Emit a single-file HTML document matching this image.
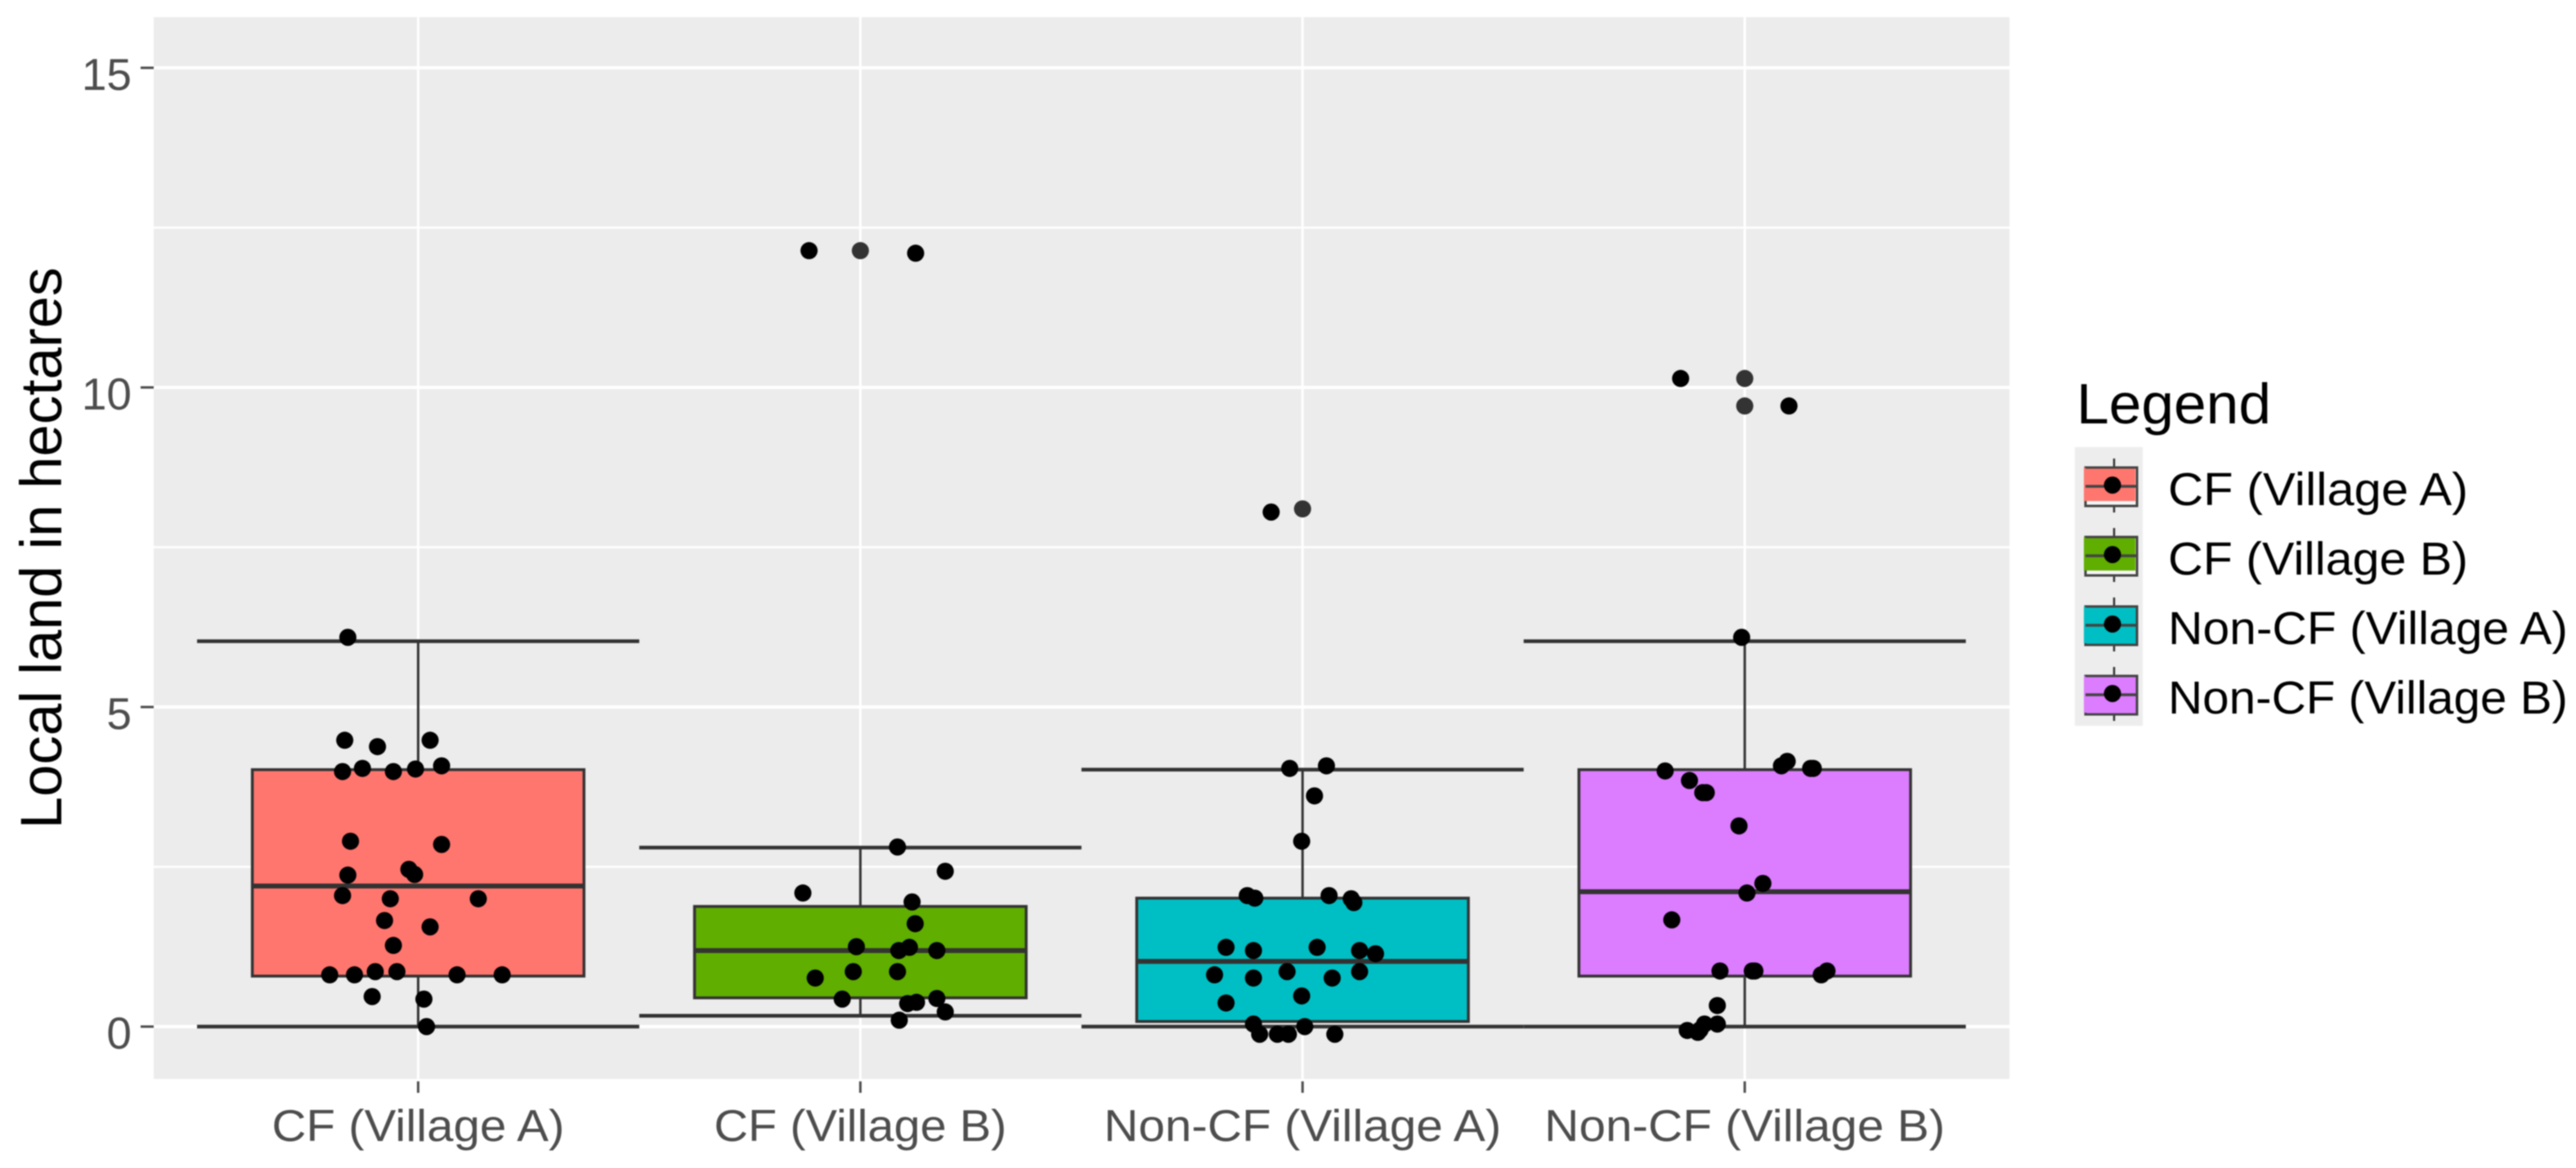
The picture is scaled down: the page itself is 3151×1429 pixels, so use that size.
<!DOCTYPE html>
<html lang="en">
<head>
<meta charset="utf-8">
<title>Local land in hectares by group</title>
<style>
  html, body { margin: 0; padding: 0; background: #fff; }
  svg { display: block; font-family: "Liberation Sans", Arial, sans-serif; filter: blur(0.7px); }
</style>
</head>
<body>
<svg id="chart" xmlns="http://www.w3.org/2000/svg" width="3151" height="1429" viewBox="0 0 3151 1429">
  <rect x="0" y="0" width="3151" height="1429" fill="#ffffff"/>
  <rect x="188" y="21" width="2270" height="1299" fill="#ececec"/>
  <g id="grid"></g>
  <g id="marks"></g>
  <g id="axes"></g>
  <text transform="translate(75,1014) rotate(-90)" font-size="71" fill="#000" textLength="687" lengthAdjust="spacingAndGlyphs">Local land in hectares</text>
  <text x="2540" y="518" font-size="70" fill="#000" textLength="238" lengthAdjust="spacingAndGlyphs">Legend</text>
  <g id="legend"></g>
</svg>
<script>
const categories = ["CF (Village A)", "CF (Village B)", "Non-CF (Village A)", "Non-CF (Village B)"];
const yTicks = [0, 5, 10, 15];
const yMinorTicks = [2.5, 7.5, 12.5];
const categoryFills = ["#ff766f", "#5fae00", "#00bfc4", "#dc7cff"];

const whiskerLow = [0, 0.17, 0, 0];
const q1 = [0.79, 0.45, 0.08, 0.79];
const medians = [2.2, 1.19, 1.02, 2.11];
const q3 = [4.02, 1.88, 2.01, 4.02];
const whiskerHigh = [6.03, 2.8, 4.02, 6.03];

const outliersCFB = [12.14];
const outliersNonCFA = [8.10];
const outliersNonCFB = [10.14, 9.71];

const valuesCFA = [6.09,4.48,4.38,4.48,4.08,3.99,4.04,3.99,4.03,2.90,2.85,2.37,2.46,2.38,2.05,2.0,2.0,1.66,1.56,1.27,0.81,0.81,0.86,0.86,0.81,0.81,0.47,0.43,0];
const jitterCFA = [-0.159,-0.166,-0.092,0.027,0.053,-0.171,-0.126,-0.056,-0.006,-0.153,0.053,-0.159,-0.021,-0.008,-0.171,-0.063,0.136,-0.076,0.027,-0.056,-0.2,-0.144,-0.097,-0.048,0.088,0.19,-0.104,0.013,0.019];

const valuesCFB = [12.14,12.10,2.81,2.43,2.09,1.95,1.61,1.25,1.19,1.24,1.19,0.86,0.86,0.76,0.43,0.36,0.38,0.44,0.23,0.10];
const jitterCFB = [-0.116,0.125,0.084,0.192,-0.13,0.117,0.124,-0.009,0.087,0.111,0.173,-0.016,0.084,-0.102,-0.041,0.107,0.127,0.173,0.192,0.088];

const valuesNonCFA = [8.05,4.04,4.08,3.61,2.90,2.05,2.01,2.05,2.0,1.94,1.24,1.19,1.24,1.19,1.14,0.81,0.76,0.86,0.76,0.86,0.48,0.37,0.04,0,-0.12,-0.12,-0.12,-0.12];
const jitterNonCFA = [-0.071,-0.029,0.054,0.027,-0.002,-0.125,-0.108,0.06,0.11,0.116,-0.173,-0.111,0.033,0.129,0.165,-0.199,-0.111,-0.035,0.067,0.129,-0.002,-0.173,-0.111,0.005,-0.097,-0.057,-0.032,0.073];

const valuesNonCFB = [10.14,9.71,6.09,4.0,3.85,3.66,3.66,3.14,4.15,4.08,4.04,4.04,2.24,2.09,1.67,0.87,0.87,0.87,0.81,0.87,0.33,0.04,0.04,-0.05,-0.06,-0.09];
const jitterNonCFB = [-0.145,0.10,-0.007,-0.18,-0.125,-0.095,-0.087,-0.013,0.096,0.083,0.149,0.155,0.041,0.005,-0.165,-0.056,0.017,0.023,0.173,0.186,-0.062,-0.062,-0.091,-0.101,-0.13,-0.106];

const pointValues = [valuesCFA, valuesCFB, valuesNonCFA, valuesNonCFB];
const pointJitter = [jitterCFA, jitterCFB, jitterNonCFA, jitterNonCFB];
const outlierValues = [[], outliersCFB, outliersNonCFA, outliersNonCFB];

const NS = "http://www.w3.org/2000/svg";
const xUnit = 540.9;
function xScale(pos) { return 511.5 + xUnit * pos; }
function yScale(v) { return 1256 - 78.2 * v; }

function make(tag, parent, attrs, text) {
  const node = document.createElementNS(NS, tag);
  for (const k in attrs) node.setAttribute(k, attrs[k]);
  if (text !== undefined) node.textContent = text;
  parent.appendChild(node);
  return node;
}
function slug(s) { return s.toLowerCase().replace(/[^a-z0-9]+/g, "-").replace(/^-|-$/g, ""); }

const grid = document.getElementById("grid");
const marks = document.getElementById("marks");
const axes = document.getElementById("axes");
const legend = document.getElementById("legend");
const panelL = 188, panelR = 2458, panelT = 21, panelB = 1320;
const lineColor = "#333333";
const tickColor = "#4d4d4d";
const pointRadius = 10.5;

yMinorTicks.forEach(function (v) {
  const ln = make("line", grid, {x1: panelL, x2: panelR, y1: yScale(v), y2: yScale(v), stroke: "#fff", "stroke-width": 2.5});
  
  
});
yTicks.forEach(function (v) {
  const ln = make("line", grid, {x1: panelL, x2: panelR, y1: yScale(v), y2: yScale(v), stroke: "#fff", "stroke-width": 4});
  
  
  const tick = make("line", axes, {x1: 172, x2: 188, y1: yScale(v), y2: yScale(v), stroke: tickColor, "stroke-width": 3});
  
  
  const lab = make("text", axes, {x: 161, y: yScale(v) + 27, "text-anchor": "end", "font-size": 55, fill: tickColor}, String(v));
  
  
});

const xLabelWidths = [358, 358, 486, 490];
categories.forEach(function (name, i) {
  const x = xScale(i);
  const ln = make("line", grid, {x1: x, x2: x, y1: panelT, y2: panelB, stroke: "#fff", "stroke-width": 3});
  
  
  const tick = make("line", axes, {x1: x, x2: x, y1: panelB + 3, y2: panelB + 17, stroke: tickColor, "stroke-width": 3});
  
  
  const lab = make("text", axes, {x: x, y: 1396, "text-anchor": "middle", "font-size": 55, fill: tickColor, textLength: xLabelWidths[i], lengthAdjust: "spacingAndGlyphs"}, name);
  
  
});

categories.forEach(function (name, i) {
  const x = xScale(i);
  const group = make("g", marks, {});
  
  

  const stem = make("line", group, {x1: x, x2: x, y1: yScale(whiskerHigh[i]), y2: yScale(whiskerLow[i]), stroke: lineColor, "stroke-width": 3});
  
  

  [whiskerHigh[i], whiskerLow[i]].forEach(function (v) {
    const cap = make("line", group, {x1: xScale(i - 0.5), x2: xScale(i + 0.5), y1: yScale(v), y2: yScale(v), stroke: lineColor, "stroke-width": 4.5});
    
    
  });

  const box = make("rect", group, {x: xScale(i - 0.375), y: yScale(q3[i]), width: xUnit * 0.75, height: yScale(q1[i]) - yScale(q3[i]), fill: categoryFills[i], stroke: lineColor, "stroke-width": 3.5});
  
  

  const med = make("line", group, {x1: xScale(i - 0.375), x2: xScale(i + 0.375), y1: yScale(medians[i]), y2: yScale(medians[i]), stroke: lineColor, "stroke-width": 6});
  
  

  outlierValues[i].forEach(function (v) {
    const o = make("circle", group, {cx: x, cy: yScale(v), r: pointRadius, fill: lineColor});
    
    
  });

  pointValues[i].forEach(function (v, k) {
    const p = make("circle", group, {cx: xScale(i + pointJitter[i][k]), cy: yScale(v), r: pointRadius, fill: "#000"});
    
    
  });
});

const keyBg = make("rect", legend, {x: 2538, y: 547, width: 83, height: 341, fill: "#ededed"});


const legendLabelWidths = [367, 367, 489, 489];
categories.forEach(function (name, i) {
  const off = 85 * i;
  const entry = make("g", legend, {});
  
  

  const stem = make("line", entry, {x1: 2586, x2: 2586, y1: 561 + off, y2: 627 + off, stroke: lineColor, "stroke-width": 2.5});
  
  
  const frame = make("rect", entry, {x: 2551, y: 572 + off, width: 63, height: 47, fill: i < 2 ? "#f4f4f4" : categoryFills[i], stroke: "#444", "stroke-width": 3});
  
  
  const fill = make("rect", entry, {x: 2549, y: 572 + off, width: 63, height: i < 2 ? 41 : 45, fill: categoryFills[i]});
  
  
  const top = make("line", entry, {x1: 2551, x2: 2614, y1: 572 + off, y2: 572 + off, stroke: "#444", "stroke-width": 3});
  
  
  const med = make("line", entry, {x1: 2551, x2: 2614, y1: 595 + off, y2: 595 + off, stroke: "#444", "stroke-width": 3.5});
  
  
  const dot = make("circle", entry, {cx: 2584, cy: 593.5 + off, r: 10.5, fill: "#000"});
  
  
  const lab = make("text", entry, {x: 2652, y: 618 + off, "font-size": 57, fill: "#000", textLength: legendLabelWidths[i], lengthAdjust: "spacingAndGlyphs"}, name);
  
  
});
</script>
</body>
</html>
